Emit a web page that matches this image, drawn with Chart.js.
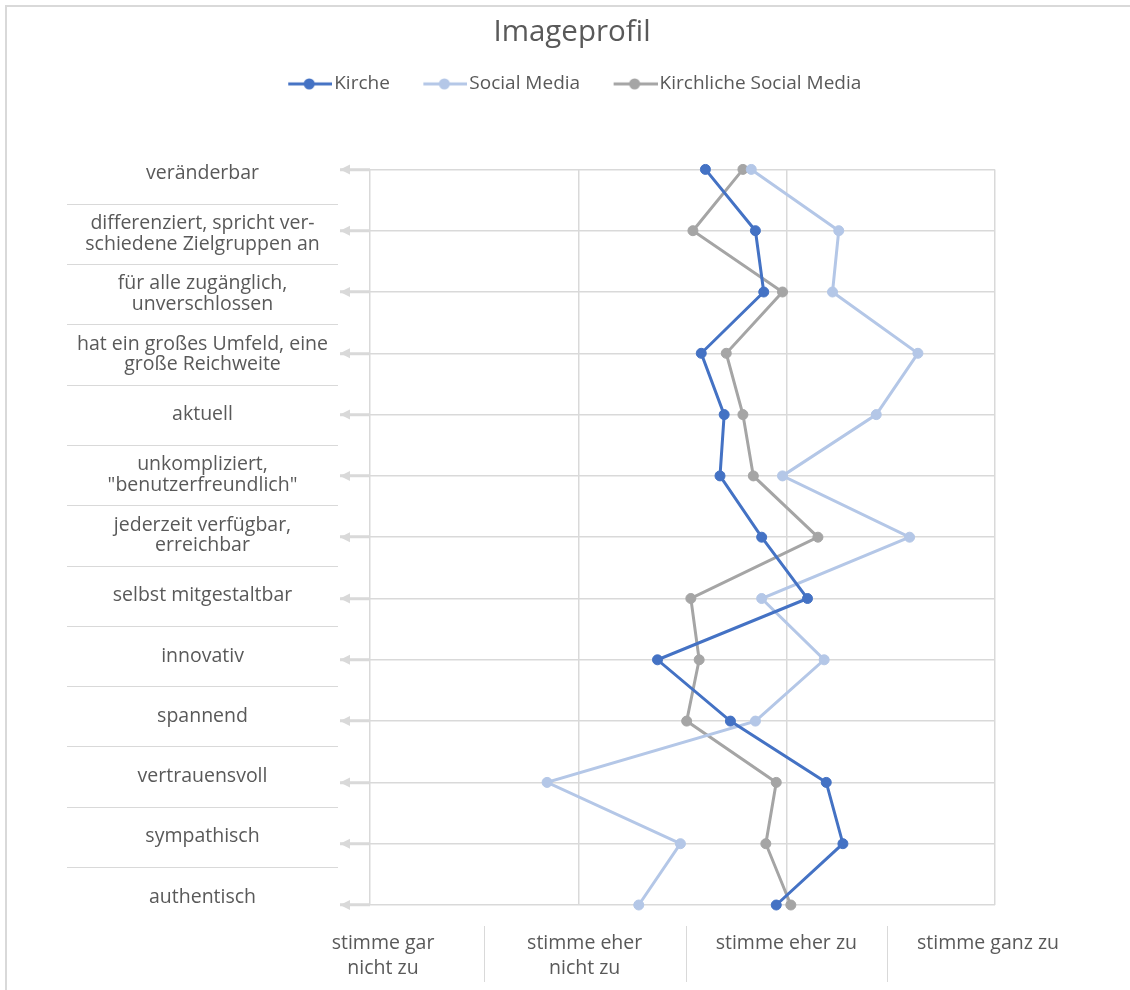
<!DOCTYPE html>
<html>
<head>
<meta charset="utf-8">
<title>Imageprofil</title>
<script src="https://cdn.jsdelivr.net/npm/chart.js@4"></script>
<style>
    html, body { margin: 0; padding: 0; background: #fff; }
    canvas { display: block; }
</style>
</head>
<body>
<canvas id="imageChart" width="1130" height="990"></canvas>
<script>
// Categories, top to bottom
const categories = [
    'veränderbar',
    ['differenziert, spricht ver-', 'schiedene Zielgruppen an'],
    ['für alle zugänglich,', 'unverschlossen'],
    ['hat ein großes Umfeld, eine', 'große Reichweite'],
    'aktuell',
    ['unkompliziert,', '"benutzerfreundlich"'],
    ['jederzeit verfügbar,', 'erreichbar'],
    'selbst mitgestaltbar',
    'innovativ',
    'spannend',
    'vertrauensvoll',
    'sympathisch',
    'authentisch'
];
const categoryIndex = categories.map((c, i) => i);

// Scale 1..4
const xTickValues = [1, 2, 3, 4];
const xTickLabels = [
    ['stimme gar', 'nicht zu'],
    ['stimme eher', 'nicht zu'],
    'stimme eher zu',
    'stimme ganz zu'
];

const seriesNames = ['Kirche', 'Social Media', 'Kirchliche Social Media'];
const seriesColors = ['#4472C4', '#B4C7E7', '#A5A5A5'];

const kirche = [2.61, 2.85, 2.89, 2.59, 2.70, 2.68, 2.88, 3.10, 2.38, 2.73, 3.19, 3.27, 2.95];
const socialMedia = [2.83, 3.25, 3.22, 3.63, 3.43, 2.98, 3.59, 2.88, 3.18, 2.85, 1.85, 2.49, 2.29];
const kirchlicheSocialMedia = [2.79, 2.55, 2.98, 2.71, 2.79, 2.84, 3.15, 2.54, 2.58, 2.52, 2.95, 2.90, 3.02];

const TEXT = '#595959';
const GRID = '#d9d9d9';
const FONT = '"Open Sans", sans-serif';
const LABEL_SIZE = 19.5;

// legend marker: line with a dot (left part transparent for spacing)
function legendMarker(color) {
    const c = document.createElement('canvas');
    c.width = 75;
    c.height = 12;
    const g = c.getContext('2d');
    g.strokeStyle = color;
    g.lineWidth = 3;
    g.beginPath();
    g.moveTo(31, 6);
    g.lineTo(75, 6);
    g.stroke();
    g.fillStyle = color;
    g.beginPath();
    g.arc(52, 6, 5.5, 0, Math.PI * 2);
    g.fill();
    return c;
}
const markers = seriesColors.map(legendMarker);

// frame, row separators, arrow heads, column separators
const decorations = {
    id: 'decorations',
    beforeDraw(chart) {
        const ctx = chart.ctx;
        ctx.save();
        ctx.fillStyle = '#fff';
        ctx.fillRect(0, 0, chart.width, chart.height);
        ctx.fillStyle = GRID;
        ctx.fillRect(5, 5, chart.width - 5, 2);
        ctx.fillRect(5, 5, 2, chart.height - 5);
        ctx.restore();
    },
    beforeDatasetsDraw(chart) {
        const ctx = chart.ctx;
        const y = chart.scales.y;
        const yLab = chart.scales.yLabels;
        const x2 = chart.scales.x2;
        const area = chart.chartArea;
        ctx.save();
        ctx.strokeStyle = GRID;
        ctx.lineWidth = 1;
        for (let i = 0; i < categories.length - 1; i++) {
            const py = Math.round(yLab.getPixelForValue(i + 0.5)) + 0.5;
            ctx.beginPath();
            ctx.moveTo(67, py);
            ctx.lineTo(338, py);
            ctx.stroke();
        }
        for (let i = 0; i < xTickValues.length - 1; i++) {
            const px = Math.round(x2.getPixelForValue(xTickValues[i] + 0.5)) + 0.5;
            ctx.beginPath();
            ctx.moveTo(px, area.bottom + 21);
            ctx.lineTo(px, area.bottom + 77);
            ctx.stroke();
        }
        ctx.fillStyle = GRID;
        for (let i = 0; i < categories.length; i++) {
            const py = y.getPixelForValue(i);
            const tip = area.left - 30;
            ctx.beginPath();
            ctx.moveTo(tip, py);
            ctx.lineTo(tip + 10, py - 5);
            ctx.lineTo(tip + 10, py + 5);
            ctx.closePath();
            ctx.fill();
        }
        ctx.restore();
    }
};

// extra room below the legend, and nudge it to where the markers sit
const legendSpace = {
    id: 'legendSpace',
    beforeInit(chart) {
        const fit = chart.legend.fit;
        chart.legend.fit = function () {
            fit.bind(chart.legend)();
            this.height += 66;
        };
    },
    afterLayout(chart) {
        chart.legend.left -= 9;
        chart.legend.right -= 9;
    }
};

const datasets = [kirche, socialMedia, kirchlicheSocialMedia].map((values, i) => ({
    label: seriesNames[i],
    data: values,
    borderColor: seriesColors[i],
    backgroundColor: seriesColors[i],
    pointBackgroundColor: seriesColors[i],
    pointBorderColor: seriesColors[i],
    borderWidth: 3,
    pointRadius: 5,
    pointBorderWidth: 1,
    tension: 0,
    fill: false
}));

new Chart(document.getElementById('imageChart'), {
    type: 'line',
    data: { labels: categories, datasets: datasets },
    plugins: [decorations, legendSpace],
    options: {
        indexAxis: 'y',
        responsive: false,
        animation: false,
        layout: { padding: { left: 14, right: 0, top: 0, bottom: 11 } },
        plugins: {
            title: {
                display: true,
                text: 'Imageprofil',
                color: TEXT,
                font: { family: FONT, size: 29.5, weight: 'normal' },
                padding: { top: 15, bottom: 14 }
            },
            legend: {
                position: 'top',
                labels: {
                    color: TEXT,
                    font: { family: FONT, size: 19 },
                    usePointStyle: true,
                    pointStyleWidth: 60,
                    padding: 10,
                    generateLabels(chart) {
                        const items = Chart.defaults.plugins.legend.labels.generateLabels(chart);
                        items.forEach(item => { item.pointStyle = markers[item.datasetIndex]; });
                        return items;
                    }
                }
            },
            tooltip: { enabled: false }
        },
        scales: {
            // data axis: grid rows and the short arrow ticks
            y: {
                type: 'category',
                offset: false,
                grid: { color: GRID, lineWidth: 1.5, drawTicks: true, tickLength: 30, tickColor: GRID, tickWidth: 3 },
                border: { display: false },
                ticks: { display: false },
                afterFit(scale) { scale.width = 30; }
            },
            // label column: rows spaced like the reference table
            yLabels: {
                type: 'linear',
                axis: 'y',
                position: 'left',
                reverse: true,
                min: -0.068,
                max: 12.129,
                afterBuildTicks(scale) { scale.ticks = categoryIndex.map(v => ({ value: v })); },
                grid: { display: false, drawTicks: false },
                border: { display: false },
                ticks: {
                    color: TEXT,
                    font: { family: FONT, size: LABEL_SIZE, lineHeight: 1.05 },
                    crossAlign: 'center',
                    padding: 12,
                    autoSkip: false,
                    callback: (value, index) => categories[index]
                },
                afterFit(scale) { scale.width = 326; }
            },
            // empty right-hand spacer so title and legend centre on the whole figure
            yRight: {
                type: 'linear',
                axis: 'y',
                position: 'right',
                grid: { display: false, drawTicks: false },
                border: { display: false },
                ticks: { display: false },
                afterFit(scale) { scale.width = 135; }
            },
            x: {
                type: 'linear',
                min: 1,
                max: 4,
                afterBuildTicks(scale) { scale.ticks = xTickValues.map(v => ({ value: v })); },
                grid: { color: GRID, lineWidth: 1.5, drawTicks: false },
                border: { display: false },
                ticks: { display: false },
                afterFit(scale) { scale.height = 0; }
            },
            x2: {
                type: 'linear',
                position: 'bottom',
                min: 0.9355,
                max: 4.0347,
                afterBuildTicks(scale) { scale.ticks = xTickValues.map(v => ({ value: v })); },
                grid: { display: false, drawTicks: false },
                border: { display: false },
                ticks: {
                    color: TEXT,
                    font: { family: FONT, size: LABEL_SIZE, lineHeight: 1.3 },
                    padding: 25.5,
                    maxRotation: 0,
                    autoSkip: false,
                    callback: (value, index) => xTickLabels[index]
                },
                afterFit(scale) { scale.height = 74; }
            }
        }
    }
});
</script>
</body>
</html>
